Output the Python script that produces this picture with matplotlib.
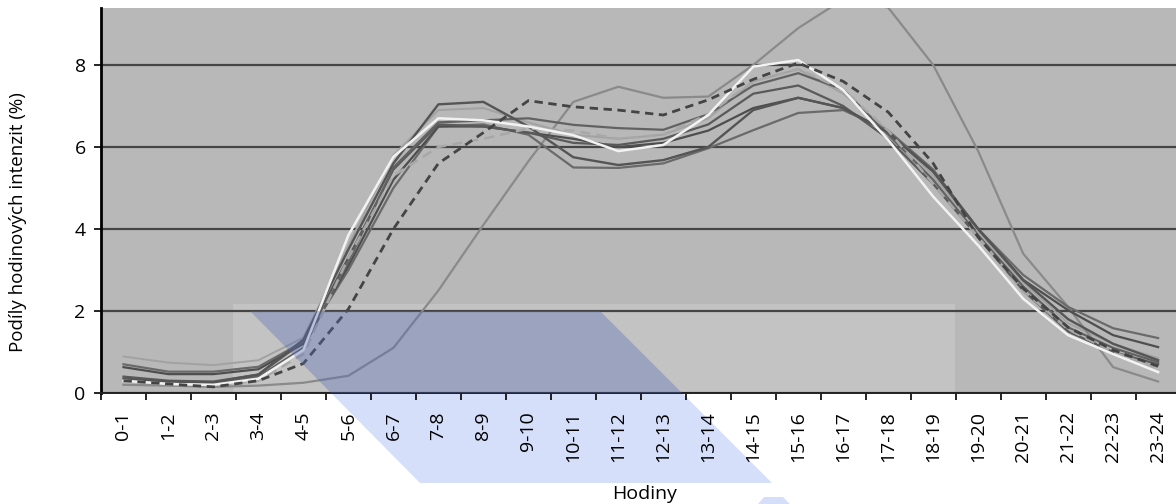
import matplotlib
matplotlib.use('Agg')
import matplotlib.pyplot as plt
from matplotlib.patches import Polygon, Rectangle

plt.rcParams['font.family'] = ['Open Sans', 'DejaVu Sans']

# hour intervals on the x axis
hours = ['0-1', '1-2', '2-3', '3-4', '4-5', '5-6', '6-7', '7-8', '8-9', '9-10',
         '10-11', '11-12', '12-13', '13-14', '14-15', '15-16', '16-17', '17-18',
         '18-19', '19-20', '20-21', '21-22', '22-23', '23-24']

# hourly shares (%)
shifted = [0.20, 0.18, 0.15, 0.18, 0.25, 0.42, 1.10, 2.50, 4.10, 5.65, 7.10, 7.47,
           7.20, 7.23, 8.00, 8.90, 9.60, 9.40, 8.00, 5.90, 3.40, 2.10, 0.63, 0.28]
dash_dark = [0.30, 0.22, 0.15, 0.30, 0.72, 2.05, 4.00, 5.60, 6.35, 7.13, 6.98, 6.90,
             6.78, 7.15, 7.65, 8.05, 7.60, 6.85, 5.60, 3.80, 2.55, 1.60, 1.05, 0.65]
dash_light = [0.30, 0.22, 0.18, 0.30, 0.95, 3.30, 5.30, 6.00, 6.20, 6.45, 6.40, 6.20,
              6.30, 6.80, 7.60, 7.90, 7.40, 6.40, 5.10, 3.80, 2.50, 1.55, 1.00, 0.60]
white = [0.30, 0.22, 0.20, 0.35, 1.05, 3.85, 5.76, 6.70, 6.65, 6.50, 6.29, 5.90,
         6.05, 6.78, 7.96, 8.12, 7.39, 6.17, 4.79, 3.60, 2.30, 1.41, 0.95, 0.51]
dark_a = [0.35, 0.28, 0.26, 0.45, 1.30, 3.50, 5.60, 7.04, 7.10, 6.50, 5.75, 5.56,
          5.68, 6.00, 6.90, 7.20, 6.95, 6.35, 5.40, 4.00, 2.75, 1.80, 1.20, 0.80]
dark_b = [0.40, 0.30, 0.28, 0.45, 1.25, 3.30, 5.45, 6.55, 6.50, 6.35, 6.10, 6.05,
          6.20, 6.55, 7.30, 7.50, 7.00, 6.20, 5.10, 3.80, 2.50, 1.50, 1.00, 0.70]
dark_c = [0.32, 0.26, 0.22, 0.40, 1.10, 3.20, 5.50, 6.60, 6.65, 6.70, 6.54, 6.46,
          6.42, 6.80, 7.50, 7.80, 7.40, 6.30, 5.20, 3.85, 2.60, 1.60, 1.10, 0.75]
night_1 = [0.70, 0.52, 0.52, 0.64, 1.25, 3.00, 5.00, 6.50, 6.55, 6.30, 5.50, 5.49,
           5.60, 5.97, 6.41, 6.83, 6.90, 6.40, 5.45, 4.00, 2.88, 2.10, 1.58, 1.34]
night_2 = [0.63, 0.46, 0.46, 0.58, 1.20, 3.10, 5.20, 6.50, 6.50, 6.35, 6.20, 6.00,
           6.10, 6.40, 6.95, 7.20, 6.95, 6.35, 5.40, 4.00, 2.76, 2.02, 1.41, 1.12]
light = [0.89, 0.74, 0.68, 0.80, 1.35, 3.60, 5.80, 6.90, 6.95, 6.60, 6.30, 6.20,
         6.30, 6.70, 7.60, 7.90, 7.30, 6.40, 5.30, 3.95, 2.70, 1.70, 1.20, 0.85]

W, H = 1176, 504
fig = plt.figure(figsize=(W / 100, H / 100), dpi=100)
ax = fig.add_axes([101 / W, (H - 393) / H, (1180.6 - 101) / W, (393 - 8) / H])
ax.set_facecolor('#b8b8b8')

x = list(range(len(hours)))

# lighter box behind the lines
ax.add_patch(Rectangle((233 / W, (H - 393) / H), (955 - 233) / W, 89 / H,
                       transform=fig.transFigure, facecolor='#c3c3c3',
                       edgecolor='none', zorder=0.3))

ax.plot(x, light, color='#a2a2a2', lw=1.4, zorder=2)
ax.plot(x, shifted, color='#8a8a8a', lw=1.6, zorder=2)
ax.plot(x, night_1, color='#6a6a6a', lw=1.6, zorder=2)
ax.plot(x, night_2, color='#4e4e4e', lw=1.6, zorder=2)
ax.plot(x, dark_b, color='#5a5a5a', lw=1.6, zorder=2)
ax.plot(x, dark_c, color='#626262', lw=1.6, zorder=2)
ax.plot(x, dark_a, color='#555555', lw=1.7, zorder=2)
ax.plot(x, dash_light, color='#a8a8a8', lw=1.8, ls=(0, (4, 2.5)), zorder=2.1)
ax.plot(x, white, color='#f2f2f2', lw=1.8, zorder=2.2)
ax.plot(x, dash_dark, color='#444444', lw=2.0, ls=(0, (3, 2)), zorder=2.3)

ax.set_xlim(-0.5, len(hours) - 0.5)
ax.set_ylim(0, 9.39)

ax.set_yticks([0, 2, 4, 6, 8])
ax.yaxis.grid(True, color='#454545', lw=1.6)
ax.set_axisbelow(True)

ax.set_xticks([i - 0.5 for i in range(len(hours) + 1)])
ax.set_xticklabels([])
ax.set_xticks(x, minor=True)
ax.set_xticklabels(hours, minor=True, rotation=90, fontsize=14)
ax.tick_params(axis='x', which='major', length=5, width=1.2, color='black')
ax.tick_params(axis='x', which='minor', length=0, pad=13)
ax.tick_params(axis='y', length=5, width=1.2, labelsize=14, pad=6)

for side in ['top', 'right']:
    ax.spines[side].set_visible(False)
ax.spines['left'].set_linewidth(2)
ax.spines['bottom'].set_linewidth(1.4)
ax.spines['bottom'].set_color('#222222')

# blue shape drawn over the chart
shape = [(250, 311), (600, 311), (772, 483), (420, 483)]
pts = [(px / W, (H - py) / H) for px, py in shape]
fig.add_artist(Polygon(pts, closed=True, transform=fig.transFigure,
                       facecolor='#d6dffa', edgecolor='none', zorder=-1))
ax.add_patch(Polygon(pts, closed=True, transform=fig.transFigure,
                     facecolor='#5168b8', alpha=0.35, edgecolor='none', zorder=3))
blob = [(764, 497), (783, 497), (790, 504), (758, 504)]
fig.add_artist(Polygon([(px / W, (H - py) / H) for px, py in blob], closed=True,
                       transform=fig.transFigure, facecolor='#d6dffa',
                       edgecolor='none', zorder=-1))

fig.text(645 / W, (H - 499) / H, 'Hodiny', ha='center', va='baseline', fontsize=14)
fig.text(18 / W, (H - 222) / H, 'Podíly hodinových intenzit (%)', rotation=90,
         ha='center', va='center', fontsize=13.5)

fig.savefig('out.png', dpi=100)
